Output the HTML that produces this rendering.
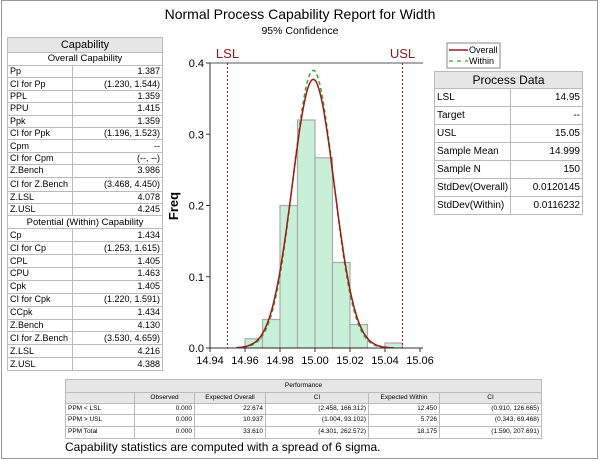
<!DOCTYPE html>
<html><head><meta charset="utf-8"><style>
body{margin:0;width:600px;height:461px;background:#fff;font-family:"Liberation Sans",sans-serif;position:relative;overflow:hidden}
.frame{position:absolute;left:1px;top:0;width:597px;height:459px;border:1px solid #999;box-sizing:border-box}
table{border-collapse:collapse;position:absolute}
td{border:1px solid #bbb;padding:0 2px;white-space:nowrap;line-height:1}
.lt td{font-size:9px;height:11.4px}
.lt td.v{text-align:right}
.lt .h{background:#e6e6e6;text-align:center;font-size:11px;height:14px}
.lt .s{text-align:center;height:12px;font-size:9.5px}
.lt .p td{height:11.9px}
.rt td{font-size:10px;height:17px}
.bt td{font-size:6.5px;height:10.2px}
</style></head><body>
<div class="frame"></div>
<div style="position:absolute;left:0;width:600px;top:6px;text-align:center;font-size:14px">Normal Process Capability Report for Width</div>
<div style="position:absolute;left:0;width:600px;top:25px;text-align:center;font-size:10.5px">95% Confidence</div>

<table class="lt" style="left:7px;top:37px;width:156px;border:1.5px solid #444">
<tr><td colspan="2" class="h">Capability</td></tr>
<tr><td colspan="2" class="s">Overall Capability</td></tr>
<tr><td style="width:60px">Pp</td><td class="v">1.387</td></tr>
<tr><td>CI for Pp</td><td class="v">(1.230, 1.544)</td></tr>
<tr><td>PPL</td><td class="v">1.359</td></tr>
<tr><td>PPU</td><td class="v">1.415</td></tr>
<tr><td>Ppk</td><td class="v">1.359</td></tr>
<tr><td>CI for Ppk</td><td class="v">(1.196, 1.523)</td></tr>
<tr><td>Cpm</td><td class="v">--</td></tr>
<tr><td>CI for Cpm</td><td class="v">(--, --)</td></tr>
<tr><td>Z.Bench</td><td class="v">3.986</td></tr>
<tr><td style="height:13px">CI for Z.Bench</td><td class="v">(3.468, 4.450)</td></tr>
<tr><td>Z.LSL</td><td class="v">4.078</td></tr>
<tr><td>Z.USL</td><td class="v">4.245</td></tr>
<tr><td colspan="2" class="s">Potential (Within) Capability</td></tr>
<tr class="p"><td>Cp</td><td class="v">1.434</td></tr>
<tr class="p"><td>CI for Cp</td><td class="v">(1.253, 1.615)</td></tr>
<tr class="p"><td>CPL</td><td class="v">1.405</td></tr>
<tr class="p"><td>CPU</td><td class="v">1.463</td></tr>
<tr class="p"><td>Cpk</td><td class="v">1.405</td></tr>
<tr class="p"><td>CI for Cpk</td><td class="v">(1.220, 1.591)</td></tr>
<tr class="p"><td>CCpk</td><td class="v">1.434</td></tr>
<tr class="p"><td>Z.Bench</td><td class="v">4.130</td></tr>
<tr class="p"><td>CI for Z.Bench</td><td class="v">(3.530, 4.659)</td></tr>
<tr class="p"><td>Z.LSL</td><td class="v">4.216</td></tr>
<tr class="p"><td>Z.USL</td><td class="v">4.388</td></tr>
</table>

<table class="rt" style="left:434px;top:71px;width:149px;border:1.5px solid #444">
<tr><td colspan="2" style="background:#e6e6e6;text-align:center;font-size:12px;height:16px">Process Data</td></tr>
<tr><td style="width:70px">LSL</td><td style="text-align:right">14.95</td></tr>
<tr><td>Target</td><td style="text-align:right">--</td></tr>
<tr><td>USL</td><td style="text-align:right">15.05</td></tr>
<tr><td>Sample Mean</td><td style="text-align:right">14.999</td></tr>
<tr><td>Sample N</td><td style="text-align:right">150</td></tr>
<tr><td>StdDev(Overall)</td><td style="text-align:right">0.0120145</td></tr>
<tr><td>StdDev(Within)</td><td style="text-align:right">0.0116232</td></tr>
</table>

<table class="bt" style="left:65px;top:379px;width:477px;border:1.5px solid #444">
<tr><td colspan="6" style="background:#e6e6e6;text-align:center;height:12px">Performance</td></tr>
<tr style="background:#e6e6e6;text-align:center"><td style="width:64px"></td><td style="width:55px">Observed</td><td style="width:66px">Expected Overall</td><td style="width:98px">CI</td><td style="width:66px">Expected Within</td><td>CI</td></tr>
<tr><td>PPM &lt; LSL</td><td style="text-align:right">0.000</td><td style="text-align:right">22.674</td><td style="text-align:right">(2.458, 166.312)</td><td style="text-align:right">12.450</td><td style="text-align:right">(0.910, 126.665)</td></tr>
<tr><td>PPM &gt; USL</td><td style="text-align:right">0.000</td><td style="text-align:right">10.937</td><td style="text-align:right">(1.004, 93.102)</td><td style="text-align:right">5.726</td><td style="text-align:right">(0.343, 69.468)</td></tr>
<tr><td style="height:11.5px">PPM Total</td><td style="text-align:right">0.000</td><td style="text-align:right">33.610</td><td style="text-align:right">(4.301, 262.572)</td><td style="text-align:right">18.175</td><td style="text-align:right">(1.590, 207.691)</td></tr>
</table>
<div style="position:absolute;left:65px;top:440px;font-size:12px">Capability statistics are computed with a spread of 6 sigma.</div>

<svg id="chart" width="600" height="461" style="position:absolute;left:0;top:0" xmlns="http://www.w3.org/2000/svg"></svg>
<script>
const binStarts=[14.96,14.97,14.98,14.99,15.00,15.01,15.02,15.03,15.04];
const binFreqs=[0.013,0.04,0.2,0.32,0.267,0.12,0.033,0,0.007];
const xTicks=[14.94,14.96,14.98,15.00,15.02,15.04,15.06];
const yTicks=[0.0,0.1,0.2,0.3,0.4];
const specLimits=[14.95,15.05];
const specNames=["LSL","USL"];
const fitMean=[14.999];
const fitSd=[0.0120145,0.0116232];
const binW=0.01;
const NS="http://www.w3.org/2000/svg";
const svg=document.getElementById('chart');
const X0=210,X1=420,Y0=348,Y1=63;
const sx=v=>X0+(v-14.94)/(15.06-14.94)*(X1-X0);
const sy=v=>Y0-v/0.4*(Y0-Y1);
function mk(t,a){const e=document.createElementNS(NS,t);for(const k in a)e.setAttribute(k,a[k]);svg.appendChild(e);return e;}
binStarts.forEach((b,i)=>{if(binFreqs[i]<=0)return;
const r=mk('rect',{x:sx(b),y:sy(binFreqs[i]),width:sx(b+binW)-sx(b),height:Y0-sy(binFreqs[i]),fill:'#c8f0d8',stroke:'#aaa','stroke-width':1.2});

});
const k=0.377*0.0120145*Math.sqrt(2*Math.PI);
function curve(sd,color,dash,name){let d='';for(let i=0;i<=200;i++){const x=14.955+i*0.09/200;const y=k/(sd*Math.sqrt(2*Math.PI))*Math.exp(-((x-fitMean[0])**2)/(2*sd*sd));d+=(i?'L':'M')+sx(x).toFixed(1)+','+sy(y).toFixed(1);}
const p=mk('path',{d:d,fill:'none',stroke:color,'stroke-width':1.5,'stroke-dasharray':dash});

}
curve(fitSd[1],'#3a3','4,3','within-curve');
curve(fitSd[0],'#a01818','','overall-curve');
specLimits.forEach((v,i)=>{const l=mk('line',{x1:sx(v),x2:sx(v),y1:Y1,y2:Y0,stroke:'#a01818','stroke-dasharray':'2,2','stroke-width':1});


const t=mk('text',{x:sx(v),y:58,'text-anchor':'middle','font-size':13,fill:'#8b1a1a','font-family':'Liberation Sans'});t.textContent=specNames[i];

});
mk('line',{x1:X0,x2:X0,y1:Y1,y2:Y0,stroke:'#333'});
mk('line',{x1:X0,x2:X1+3,y1:Y0,y2:Y0,stroke:'#333'});
mk('line',{x1:X0,x2:X1+3,y1:Y1,y2:Y1,stroke:'#555'});
xTicks.forEach(v=>{mk('line',{x1:sx(v),x2:sx(v),y1:Y0,y2:Y0+4,stroke:'#333'});
const t=mk('text',{x:sx(v),y:Y0+16,'text-anchor':'middle','font-size':11,'font-family':'Liberation Sans'});t.textContent=v.toFixed(2);

});
yTicks.forEach(v=>{mk('line',{x1:X0-4,x2:X0,y1:sy(v),y2:sy(v),stroke:'#333'});
const t=mk('text',{x:X0-6,y:sy(v)+4,'text-anchor':'end','font-size':11,'font-family':'Liberation Sans'});t.textContent=v.toFixed(1);

});
const yt=mk('text',{x:0,y:0,transform:'translate(178,206) rotate(-90)','text-anchor':'middle','font-size':13,'font-weight':'bold','font-family':'Liberation Sans'});yt.textContent='Freq';


const lg=mk('rect',{x:447,y:43,width:53,height:25,fill:'#fff',stroke:'#888'});


mk('line',{x1:449,x2:468,y1:50,y2:50,stroke:'#a01818','stroke-width':1.5});
mk('line',{x1:449,x2:468,y1:61,y2:61,stroke:'#3a3','stroke-width':1.2,'stroke-dasharray':'4,4'});
[['Overall',53],['Within',64]].forEach(a=>{const t=mk('text',{x:469,y:a[1],'font-size':9,'font-family':'Liberation Sans'});t.textContent=a[0];

});
</script>
</body></html>
